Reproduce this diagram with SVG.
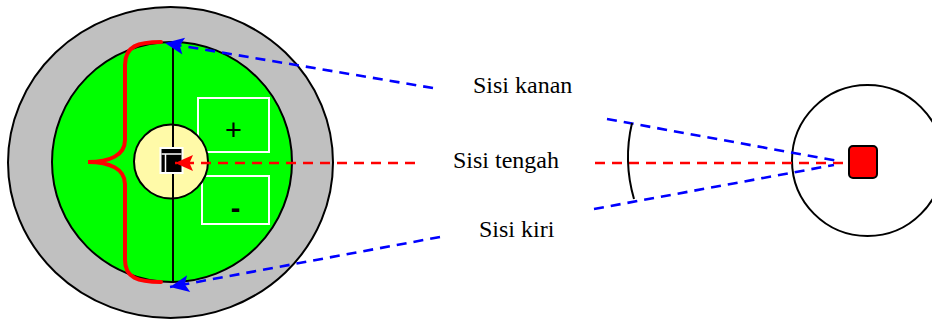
<svg xmlns="http://www.w3.org/2000/svg" width="932" height="320" viewBox="0 0 932 320">
<style>
.ol{stroke:#000;stroke-width:2}
.box{fill:#00FF00;stroke:#FFFFFF;stroke-width:2}
.blue{fill:none;stroke:#0000FF;stroke-width:2.6;stroke-dasharray:10 7}
.red{fill:none;stroke:#FF0000;stroke-width:2.6;stroke-dasharray:10 7}
.lbl{font-family:"Liberation Serif","Times New Roman",serif;font-size:24px;fill:#000}
.sign{font-family:"Liberation Sans",Arial,sans-serif;font-size:29px;fill:#000;text-anchor:middle}
</style>
<defs>
<marker id="ab" markerUnits="userSpaceOnUse" viewBox="-20 -10 22 20" refX="0" refY="0" markerWidth="22" markerHeight="20" orient="auto">
<path d="M0,0 L-19,-8.5 L-15,0 L-19,8.5 Z" fill="#0000FF"/>
</marker>
<marker id="ar" markerUnits="userSpaceOnUse" viewBox="-20 -10 22 20" refX="0" refY="0" markerWidth="22" markerHeight="20" orient="auto">
<path d="M0,0 L-18,-8 L-14.5,0 L-18,8 Z" fill="#FF0000"/>
</marker>
</defs>

<g id="lens">
<ellipse cx="170.5" cy="162.5" rx="162.5" ry="155.5" fill="#C0C0C0" class="ol"/>
<circle cx="172" cy="162" r="120" fill="#00FF00" class="ol"/>
<line x1="173" y1="42" x2="173" y2="283" class="ol"/>
</g>
<g id="plus-box">
<rect x="198" y="98" width="71" height="54" class="box"/>
<text x="233.5" y="140" class="sign">+</text>
</g>
<g id="minus-box">
<rect x="202" y="176" width="67" height="48" class="box"/>
<text x="235.5" y="218" class="sign" font-weight="bold">-</text>
</g>
<g id="core">
<circle cx="171" cy="161.5" r="37" fill="#FFFAA8" class="ol"/>
<line x1="173" y1="124" x2="173" y2="199" class="ol"/>
<rect x="159.5" y="147" width="24" height="27" fill="#FFFFFF"/>
<rect x="161.5" y="149" width="20" height="23" fill="#000000"/>
<line x1="161.5" y1="154" x2="181.5" y2="154" stroke="#FFFFFF" stroke-width="1.5"/>
<line x1="165.5" y1="154" x2="165.5" y2="172" stroke="#FFFFFF" stroke-width="1.5"/>
</g>
<g id="brace">
<path d="M161,42 C138,42 125,46 125,65 L125,140 C125,155 110,162 88,162 C110,162 125,169 125,184 L125,260 C125,278 138,282 161,282" fill="none" stroke="#FF0000" stroke-width="4" stroke-linecap="round"/>
</g>
<g id="eye">
<circle cx="867.5" cy="160.5" r="75.5" fill="#FFFFFF" class="ol"/>
<rect x="849" y="146" width="28" height="32" rx="4" fill="#FF0000" class="ol"/>
</g>
<g id="connectors">
<line x1="433" y1="88" x2="165" y2="43" class="blue" marker-end="url(#ab)"/>
<line x1="415" y1="163" x2="175" y2="163" class="red" marker-end="url(#ar)"/>
<line x1="440" y1="237" x2="170" y2="287" class="blue" marker-end="url(#ab)"/>
<line x1="595" y1="163" x2="849" y2="163" class="red"/>
<line x1="607" y1="119" x2="838" y2="161" class="blue"/>
<line x1="594" y1="209" x2="834" y2="165" class="blue"/>
<path d="M632,123 Q623,161 634,199" fill="none" stroke="#000" stroke-width="2"/>
</g>
<g id="labels">
<text x="473" y="93" class="lbl">Sisi kanan</text>
<text x="453" y="168" class="lbl">Sisi tengah</text>
<text x="479" y="237" class="lbl">Sisi kiri</text>
</g>
</svg>
